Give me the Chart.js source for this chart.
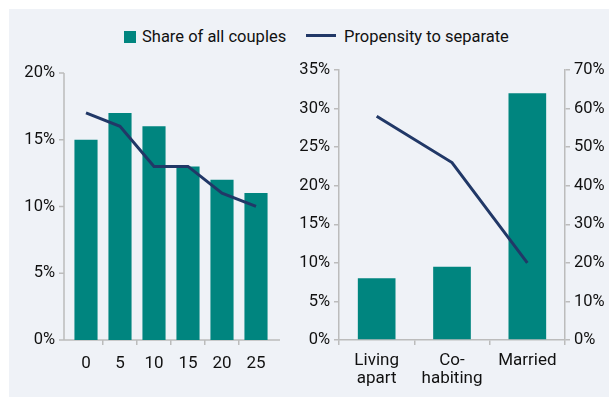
<!DOCTYPE html>
<html>
<head>
<meta charset="utf-8">
<script src="https://cdn.jsdelivr.net/npm/chart.js@4"></script>
<style>
  body { margin: 0; background: #fff; }
  #bg { position: absolute; left: 9px; top: 9px; width: 600px; height: 388px; background: #eff2f7; }
  canvas { position: absolute; }
  #left { left: 9px; top: 49px; }
  #right { left: 294px; top: 49px; }
  .legend { position: absolute; top: 26px; font: 16.5px Roboto, sans-serif; color: #111; line-height: 22px; white-space: nowrap; }
  .legend span.box { display: inline-block; width: 12px; height: 12px; background: #00857f; vertical-align: -1px; margin-right: 6px; }
  .legend span.ln { display: inline-block; width: 30px; height: 3px; background: #213867; vertical-align: 5px; margin-right: 8px; }
</style>
</head>
<body>
<div id="bg"></div>
<div class="legend" style="left:124px"><span class="box"></span>Share of all couples</div>
<div class="legend" style="left:306px"><span class="ln"></span>Propensity to separate</div>
<canvas id="left" width="285" height="348"></canvas>
<canvas id="right" width="315" height="348"></canvas>
<script>
const TEAL = '#00857f';
const NAVY = '#213867';
const AXIS = '#bcbcbc';

// left panel
const years = ['0', '5', '10', '15', '20', '25'];
const yearShare = [15, 17, 16, 13, 12, 11];
const yearPropensity = [17, 16, 13, 13, 11, 10];

// right panel
const statuses = [['Living', 'apart'], ['Co-', 'habiting'], 'Married'];
const statusShare = [8, 9.5, 32];
const statusPropensity = [58, 46, 20];

Chart.defaults.font.family = 'Roboto, sans-serif';
Chart.defaults.font.size = 16.5;
Chart.defaults.color = '#111';

const pct = v => v + '%';

// axis lines of the left panel sit a few px outside the plot area
const leftAxes = {
  id: 'leftAxes',
  beforeDatasetsDraw(chart) {
    const { ctx, chartArea: a, scales: { y } } = chart;
    const x0 = a.left - 5;
    ctx.save();
    ctx.strokeStyle = AXIS;
    ctx.lineWidth = 1.5;
    ctx.beginPath();
    ctx.moveTo(x0, a.top);
    ctx.lineTo(x0, a.bottom);
    ctx.lineTo(a.right + 7, a.bottom);
    y.ticks.forEach(t => {
      const py = y.getPixelForValue(t.value);
      ctx.moveTo(x0 - 5, py);
      ctx.lineTo(x0, py);
    });
    ctx.stroke();
    ctx.restore();
  }
};

new Chart(document.getElementById('left'), {
  type: 'bar',
  data: {
    labels: years,
    datasets: [
      { type: 'line', data: yearPropensity, borderColor: NAVY, borderWidth: 3, pointRadius: 0, tension: 0, order: 0 },
      { data: yearShare, backgroundColor: TEAL, barPercentage: 0.68, categoryPercentage: 1, order: 1 }
    ]
  },
  options: {
    responsive: false,
    animation: false,
    layout: { padding: { top: 21, right: 21, left: 0, bottom: 0 } },
    plugins: { legend: { display: false }, tooltip: { enabled: false } },
    scales: {
      x: {
        offset: true,
        border: { display: false },
        grid: {
          drawOnChartArea: false, tickLength: 5, lineWidth: 1.5,
          color: c => (c.index > 0 ? AXIS : 'transparent')
        },
        ticks: { padding: 9, maxRotation: 0, font: { size: 17 } },
        afterFit(s) { s.height = 57; }
      },
      y: {
        min: 0, max: 20,
        border: { display: false },
        grid: { display: false, drawTicks: false },
        ticks: { stepSize: 5, padding: 14, callback: pct },
        afterFit(s) { s.width = 60; }
      }
    }
  },
  plugins: [leftAxes]
});

new Chart(document.getElementById('right'), {
  type: 'bar',
  data: {
    labels: statuses,
    datasets: [
      { type: 'line', data: statusPropensity, yAxisID: 'y2', borderColor: NAVY, borderWidth: 3, pointRadius: 0, tension: 0, order: 0 },
      { data: statusShare, yAxisID: 'y', backgroundColor: TEAL, barPercentage: 0.5, categoryPercentage: 1, order: 1 }
    ]
  },
  options: {
    responsive: false,
    animation: false,
    layout: { padding: { top: 21, right: 0, left: 0, bottom: 0 } },
    plugins: { legend: { display: false }, tooltip: { enabled: false } },
    scales: {
      x: {
        offset: true,
        border: { color: AXIS, width: 1.5 },
        grid: { drawOnChartArea: false, tickLength: 5, lineWidth: 1.5, color: AXIS },
        ticks: { padding: 6, maxRotation: 0, font: { size: 17, lineHeight: 1.1 } },
        afterFit(s) { s.height = 57; }
      },
      y: {
        position: 'left',
        min: 0, max: 35,
        border: { color: AXIS, width: 1.5 },
        grid: { drawOnChartArea: false, tickLength: 5, lineWidth: 1.5, color: AXIS },
        ticks: { stepSize: 5, padding: 4, callback: pct },
        afterFit(s) { s.width = 45; }
      },
      y2: {
        position: 'right',
        min: 0, max: 70,
        border: { color: AXIS, width: 1.5 },
        grid: { drawOnChartArea: false, tickLength: 5, lineWidth: 1.5, color: AXIS },
        ticks: { stepSize: 10, padding: 4, callback: pct },
        afterFit(s) { s.width = 44; }
      }
    }
  }
});
</script>
</body>
</html>
